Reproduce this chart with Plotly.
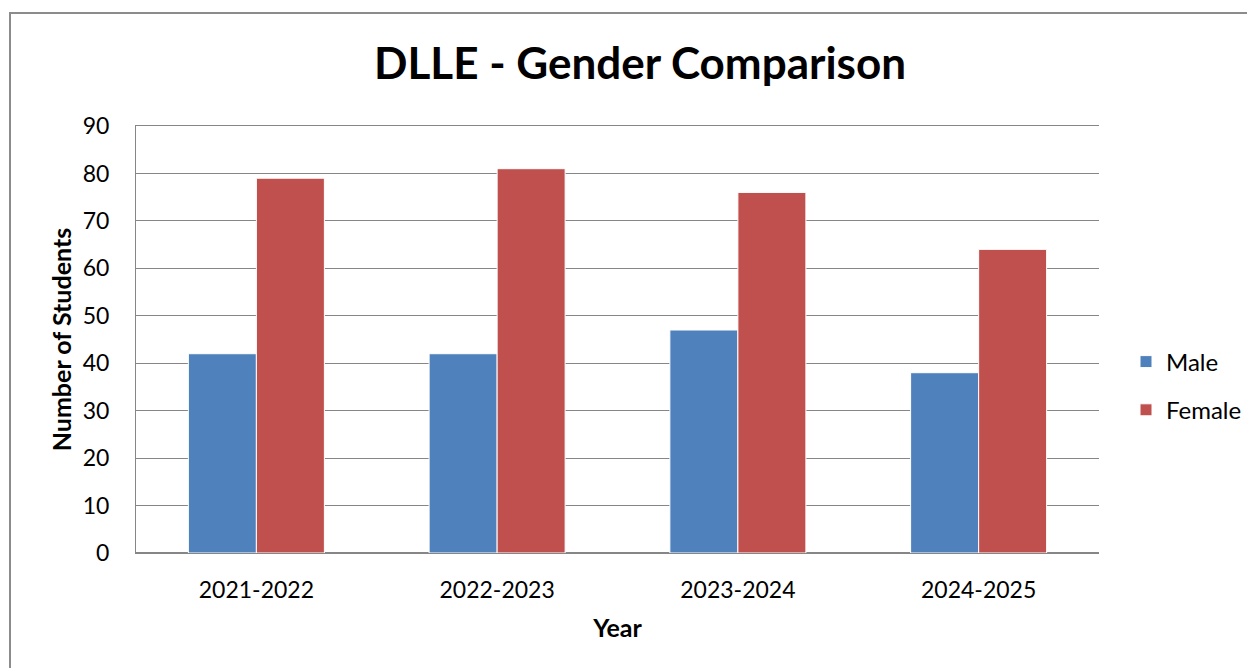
import plotly.graph_objects as go

years = ["2021-2022", "2022-2023", "2023-2024", "2024-2025"]
male = [42, 42, 47, 38]
female = [79, 81, 76, 64]

FONT = "Lato"
OFF = 8  # page body margin
fig = go.Figure()
fig.add_trace(go.Bar(name="Male", x=years, y=male, marker=dict(color="#4F81BD", line=dict(color="white", width=1)),
                     legendgroup="m"))
fig.add_trace(go.Bar(name="Female", x=years, y=female, marker=dict(color="#C0504D", line=dict(color="white", width=1)),
                     legendgroup="f"))

W, H = 1255 - OFF, 668 - OFF
L, R, T, B = 136 - OFF, 1099 - OFF, 126 - OFF, 553 - OFF
def px(x):
    return (x - OFF - L) / (R - L)
def py(y):
    return (B - (y - OFF)) / (B - T)

fig.update_layout(
    width=W, height=H,
    margin=dict(l=L, r=W - R, t=T, b=H - B, pad=0, autoexpand=False),
    paper_bgcolor="white", plot_bgcolor="white",
    barmode="group", bargap=0.435, bargroupgap=0.0,
    font=dict(family=FONT, color="black", size=20),
    title=dict(text="<b>DLLE - Gender Comparison</b>", x=(640 - OFF) / W, xanchor="center",
               y=1 - (64 - OFF) / H, yanchor="middle", font=dict(family=FONT, size=44, color="black")),
    legend=dict(x=px(1126), y=py(386), xanchor="left", yanchor="middle",
                font=dict(family=FONT, size=24), tracegroupgap=14, bgcolor="rgba(0,0,0,0)"),
    showlegend=True,
    shapes=[dict(type="rect", xref="paper", yref="paper", x0=px(10), x1=px(1300), y0=py(720), y1=py(13),
                 line=dict(color="#8C8C8C", width=2), fillcolor="rgba(0,0,0,0)", layer="below")],
)
fig.update_xaxes(showline=True, linecolor="#868686", linewidth=1, mirror=True, showgrid=False,
                 ticks="", tickfont=dict(family=FONT, size=23), ticklabelstandoff=16,
                 title=dict(text="<b>Year</b>", font=dict(family=FONT, size=25), standoff=17))
fig.update_yaxes(range=[0, 90], tickvals=[0, 10, 20, 30, 40, 50, 60, 70, 80, 90], showgrid=True,
                 gridcolor="#868686", gridwidth=1,
                 showline=True, linecolor="#868686", linewidth=1, zeroline=True, zerolinecolor="#868686",
                 ticks="", tickfont=dict(family=FONT, size=23), ticklabelstandoff=21,
                 title=dict(text="<b>Number of Students</b>", font=dict(family=FONT, size=25), standoff=3))
fig.write_html("out.html")
